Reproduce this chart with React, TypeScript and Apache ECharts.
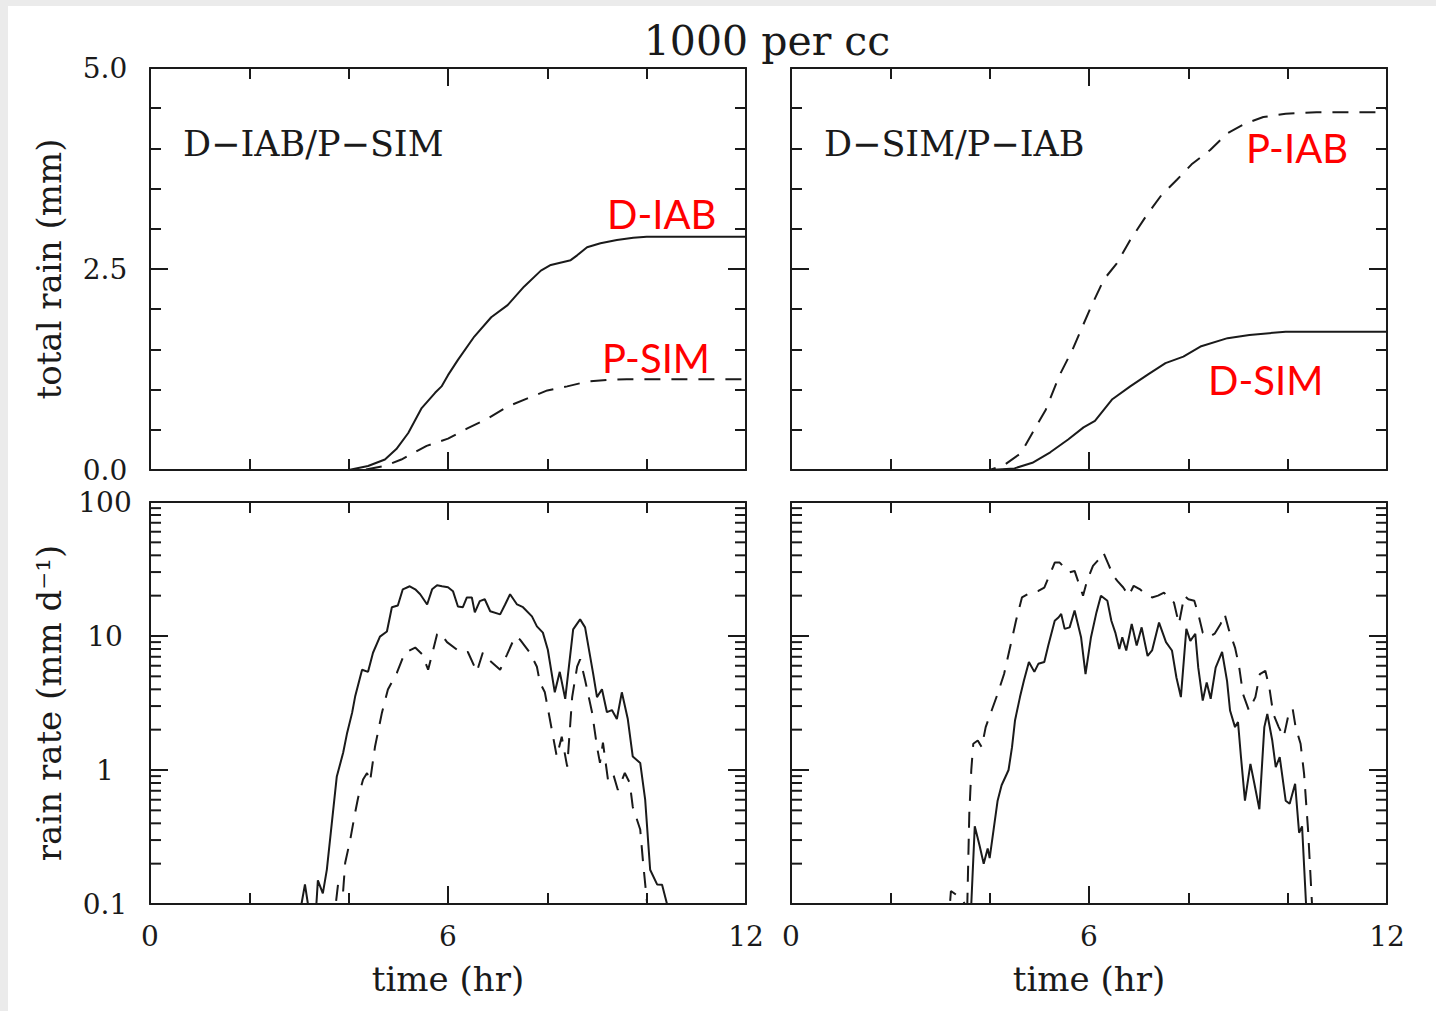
import React, { useEffect, useRef } from "react";
import * as echarts from "echarts";

// ---------- texts ----------
const TITLE = "1000 per cc";
const PANEL_LEFT = "D\u2212IAB/P\u2212SIM";
const PANEL_RIGHT = "D\u2212SIM/P\u2212IAB";
const X_NAME = "time (hr)";
const Y_TOP_NAME = "total rain (mm)";
const Y_BOTTOM_NAME = "rain rate (mm d\u207B\u00B9)";

// ---------- data: [time (hr), value] ----------
// top-left: total rain (mm)
const totalDIAB: [number, number][] = [
  [0, 0], [4.0, 0], [4.39, 0.05], [4.73, 0.13], [4.96, 0.26], [5.2, 0.46], [5.47, 0.77],
  [5.74, 0.96], [5.87, 1.04], [6.0, 1.18], [6.2, 1.37], [6.53, 1.66], [6.87, 1.9], [7.2, 2.05],
  [7.53, 2.28], [7.87, 2.48], [8.07, 2.55], [8.47, 2.61], [8.6, 2.67], [8.8, 2.77], [9.07, 2.82],
  [9.4, 2.86], [9.73, 2.89], [10.0, 2.9], [12, 2.9],
];
const totalPSIM: [number, number][] = [
  [0, 0], [4.3, 0], [4.73, 0.05], [5.06, 0.13], [5.57, 0.3], [6.0, 0.39], [6.4, 0.52], [6.8, 0.64],
  [7.2, 0.79], [7.6, 0.89], [8.0, 0.99], [8.4, 1.04], [8.8, 1.1], [9.2, 1.12], [9.6, 1.13], [12, 1.13],
];
// top-right: total rain (mm)
const totalPIAB: [number, number][] = [
  [0, 0], [4.0, 0], [4.31, 0.07], [4.63, 0.21], [4.86, 0.46], [5.13, 0.75], [5.4, 1.17], [5.67, 1.5],
  [6.04, 2.03], [6.3, 2.37], [6.56, 2.57], [6.83, 2.86], [7.14, 3.15], [7.46, 3.42], [7.77, 3.61],
  [8.08, 3.81], [8.44, 3.98], [8.79, 4.19], [9.15, 4.31], [9.51, 4.39], [9.96, 4.43], [10.58, 4.45],
  [11.9, 4.45], [12, 4.49],
];
const totalDSIM: [number, number][] = [
  [0, 0], [4.0, 0], [4.5, 0.02], [4.86, 0.09], [5.22, 0.22], [5.58, 0.38], [5.89, 0.53], [6.12, 0.61],
  [6.47, 0.88], [6.83, 1.04], [7.19, 1.19], [7.54, 1.33], [7.9, 1.41], [8.26, 1.54], [8.79, 1.64],
  [9.23, 1.68], [9.96, 1.72], [12, 1.72],
];
// bottom-left: rain rate (mm/d), clipped at 0.1
const rateDIAB: [number, number][] = [
  [0, 0.1], [3.05, 0.1], [3.12, 0.14], [3.18, 0.1], [3.35, 0.1], [3.38, 0.15], [3.48, 0.12], [3.56, 0.18],
  [3.66, 0.4], [3.76, 0.89], [3.89, 1.35], [3.97, 1.9], [4.07, 2.68], [4.13, 3.53], [4.27, 5.6], [4.39, 5.4],
  [4.49, 7.5], [4.63, 9.9], [4.77, 10.8], [4.87, 16.4], [4.99, 16.9], [5.09, 22.3], [5.23, 23.5], [5.34, 22.3],
  [5.44, 20.5], [5.58, 17.2], [5.68, 22.3], [5.78, 23.9], [5.88, 23.5], [6.0, 23.1], [6.1, 21.6], [6.2, 16.6],
  [6.3, 16.4], [6.38, 19.4], [6.48, 19.4], [6.54, 15.0], [6.64, 18.2], [6.74, 18.8], [6.85, 15.3], [7.05, 14.5],
  [7.15, 17.2], [7.25, 20.5], [7.39, 17.2], [7.51, 16.4], [7.69, 14.0], [7.79, 11.8], [7.91, 10.6], [8.01, 7.9],
  [8.15, 3.8], [8.25, 5.4], [8.36, 3.4], [8.52, 11.2], [8.66, 13.3], [8.76, 11.6], [8.92, 5.3], [9.0, 3.5],
  [9.1, 4.0], [9.2, 2.7], [9.3, 2.8], [9.4, 2.4], [9.5, 3.8], [9.62, 2.4], [9.72, 1.26], [9.87, 1.13],
  [9.97, 0.6], [10.07, 0.18], [10.21, 0.14], [10.31, 0.139], [10.41, 0.1], [12, 0.1],
];
const ratePSIM: [number, number][] = [
  [0, 0.1], [3.74, 0.1], [3.785, 0.139], [3.886, 0.121], [3.93, 0.203], [4.03, 0.3], [4.13, 0.48], [4.19, 0.62],
  [4.29, 0.85], [4.37, 0.95], [4.43, 0.82], [4.53, 1.49], [4.67, 2.68], [4.79, 3.99], [4.97, 5.3], [5.13, 7.5],
  [5.34, 8.2], [5.48, 7.3], [5.6, 5.6], [5.68, 7.3], [5.78, 10.3], [5.84, 10.6], [5.98, 9.0], [6.18, 7.9],
  [6.3, 7.5], [6.4, 7.6], [6.58, 5.4], [6.7, 7.5], [6.85, 6.5], [7.05, 5.6], [7.19, 7.3], [7.35, 9.9],
  [7.45, 9.4], [7.65, 7.5], [7.79, 5.9], [7.85, 4.5], [7.95, 3.8], [8.09, 2.0], [8.19, 1.26], [8.29, 1.77],
  [8.4, 1.06], [8.5, 3.5], [8.6, 5.9], [8.66, 6.7], [8.76, 4.7], [8.9, 2.7], [9.0, 1.49], [9.06, 1.13],
  [9.12, 1.6], [9.22, 0.85], [9.32, 0.95], [9.42, 0.71], [9.56, 0.95], [9.66, 0.8], [9.72, 0.53], [9.87, 0.36],
  [9.93, 0.2], [10.01, 0.1], [12, 0.1],
];
// bottom-right: rain rate (mm/d)
const rateDSIM: [number, number][] = [
  [0, 0.1], [3.63, 0.1], [3.7, 0.38], [3.8, 0.27], [3.88, 0.2], [3.96, 0.26], [4.0, 0.22], [4.08, 0.36],
  [4.16, 0.59], [4.24, 0.77], [4.33, 0.91], [4.38, 1.0], [4.45, 1.48], [4.51, 2.34], [4.61, 3.5], [4.69, 4.65],
  [4.79, 6.4], [4.9, 5.4], [4.98, 6.2], [5.1, 6.4], [5.18, 8.5], [5.31, 13.0], [5.39, 13.8], [5.44, 14.6],
  [5.51, 11.3], [5.61, 11.6], [5.71, 15.5], [5.84, 9.8], [5.93, 5.2], [6.04, 9.8], [6.15, 15.0], [6.24, 20.0],
  [6.37, 18.3], [6.45, 13.0], [6.53, 10.6], [6.61, 8.0], [6.67, 9.8], [6.75, 7.8], [6.86, 12.3], [6.96, 8.5],
  [7.06, 11.6], [7.18, 7.1], [7.27, 7.8], [7.41, 12.6], [7.55, 9.0], [7.67, 7.8], [7.76, 4.9], [7.85, 3.5],
  [7.96, 11.3], [8.04, 9.2], [8.14, 10.4], [8.2, 5.8], [8.29, 3.3], [8.37, 4.5], [8.45, 3.4], [8.55, 5.8],
  [8.68, 7.6], [8.78, 4.6], [8.84, 2.78], [8.94, 2.09], [9.0, 2.28], [9.06, 1.25], [9.14, 0.59], [9.25, 1.11],
  [9.33, 0.79], [9.43, 0.51], [9.53, 2.09], [9.59, 2.62], [9.69, 1.66], [9.76, 1.05], [9.84, 1.25], [9.96, 0.59],
  [10.04, 0.56], [10.15, 0.79], [10.23, 0.34], [10.29, 0.38], [10.37, 0.1], [12, 0.1],
];
const ratePIAB: [number, number][] = [
  [0, 0.1], [3.2, 0.1], [3.22, 0.125], [3.43, 0.11], [3.5, 0.1], [3.55, 0.1], [3.57, 0.22], [3.59, 0.47],
  [3.63, 1.0], [3.67, 1.57], [3.76, 1.66], [3.84, 1.48], [3.92, 2.09], [4.04, 2.78], [4.16, 3.7], [4.29, 5.2],
  [4.41, 8.2], [4.53, 13.0], [4.65, 19.4], [4.82, 21.1], [4.98, 21.7], [5.1, 23.0], [5.2, 28.1], [5.31, 35.3],
  [5.41, 35.3], [5.47, 33.4], [5.59, 29.8], [5.71, 30.6], [5.8, 24.4], [5.88, 20.0], [5.96, 25.8], [6.08, 33.4],
  [6.2, 37.4], [6.29, 42.0], [6.39, 34.4], [6.49, 28.1], [6.57, 25.8], [6.69, 23.0], [6.8, 20.0], [6.9, 23.7],
  [7.02, 22.4], [7.14, 20.5], [7.27, 19.4], [7.39, 20.0], [7.51, 21.1], [7.62, 18.8], [7.71, 17.8], [7.81, 12.3],
  [7.92, 20.0], [8.0, 18.8], [8.12, 18.3], [8.2, 14.6], [8.29, 10.6], [8.41, 9.8], [8.53, 10.4], [8.65, 12.3],
  [8.73, 14.6], [8.82, 11.0], [8.94, 8.2], [9.02, 6.0], [9.1, 3.7], [9.22, 2.78], [9.35, 3.5], [9.44, 5.2],
  [9.55, 5.5], [9.63, 4.15], [9.71, 2.62], [9.82, 2.09], [9.92, 1.76], [10.02, 2.62], [10.1, 2.87], [10.16, 2.09],
  [10.26, 1.57], [10.33, 0.94], [10.41, 0.36], [10.49, 0.1], [12, 0.1],
];

// log-axis minor tick values (2..9 per decade)
const LOG_MULTIPLIERS = [2, 3, 4, 5, 6, 7, 8, 9];
const LOG_DECADES = [0.1, 1, 10];

// ---------- styling ----------
const SERIF = '"DejaVu Serif", serif';
const SANS = 'Lato, "Open Sans", sans-serif';
const INK = "#1a1a1a";
const RED = "#ff0000";
const LW = 2;
const DASH = [16, 11];

const GRIDS = [
  { left: 150, top: 68, width: 596, height: 402 },
  { left: 791, top: 68, width: 596, height: 402 },
  { left: 150, top: 502, width: 596, height: 402 },
  { left: 791, top: 502, width: 596, height: 402 },
];

const lineStyle = { color: INK, width: LW };

function makeX(gridIndex: number, bottom: boolean, labels: boolean) {
  return {
    type: "value",
    gridIndex,
    min: 0,
    max: 12,
    interval: 6,
    position: bottom ? "bottom" : "top",
    axisLine: { show: true, onZero: false, lineStyle },
    axisTick: { show: true, inside: true, length: 18, lineStyle },
    minorTick: { show: true, splitNumber: 3, length: 11, lineStyle },
    splitLine: { show: false },
    minorSplitLine: { show: false },
    axisLabel: {
      show: labels,
      margin: 18,
      fontFamily: SERIF,
      fontSize: 28,
      color: INK,
      formatter: (v: number) => String(v),
    },
    name: labels ? X_NAME : "",
    nameLocation: "middle",
    nameGap: 58,
    nameMoveOverlap: false,
    nameTextStyle: { fontFamily: SERIF, fontSize: 34, color: INK },
  };
}

function makeYTotal(gridIndex: number, left: boolean, labels: boolean) {
  return {
    type: "value",
    gridIndex,
    min: 0,
    max: 5,
    interval: 2.5,
    position: left ? "left" : "right",
    axisLine: { show: true, onZero: false, lineStyle },
    axisTick: { show: true, inside: true, length: 18, lineStyle },
    minorTick: { show: true, splitNumber: 5, length: 11, lineStyle },
    splitLine: { show: false },
    minorSplitLine: { show: false },
    axisLabel: {
      show: labels,
      margin: 45,
      align: "center",
      fontFamily: SERIF,
      fontSize: 28,
      color: INK,
      formatter: (v: number) => v.toFixed(1),
    },
    name: labels ? Y_TOP_NAME : "",
    nameLocation: "middle",
    nameRotate: 90,
    nameGap: 84,
    nameMoveOverlap: false,
    nameTextStyle: { fontFamily: SERIF, fontSize: 34, color: INK },
  };
}

function makeYRate(gridIndex: number, left: boolean, labels: boolean) {
  return {
    type: "log",
    logBase: 10,
    gridIndex,
    min: 0.1,
    max: 100,
    position: left ? "left" : "right",
    axisLine: { show: true, onZero: false, lineStyle },
    axisTick: { show: true, inside: true, length: 18, lineStyle },
    minorTick: { show: false },
    splitLine: { show: false },
    axisLabel: {
      show: labels,
      margin: 45,
      align: "center",
      fontFamily: SERIF,
      fontSize: 28,
      color: INK,
      formatter: (v: number) => (v < 1 ? v.toFixed(1) : String(Math.round(v))),
    },
    name: labels ? Y_BOTTOM_NAME : "",
    nameLocation: "middle",
    nameRotate: 90,
    nameGap: 84,
    nameMoveOverlap: false,
    nameTextStyle: { fontFamily: SERIF, fontSize: 34, color: INK },
  };
}

function line(name: string, data: [number, number][], g: number, dashed: boolean) {
  return {
    name,
    type: "line",
    xAxisIndex: 2 * g,
    yAxisIndex: 2 * g,
    data,
    showSymbol: false,
    symbol: "none",
    silent: true,
    clip: true,
    lineStyle: { color: INK, width: 2, type: dashed ? DASH : "solid" },
    z: 2,
  };
}

function logMinorTicks(g: number) {
  const values: number[][] = [];
  LOG_DECADES.forEach((d) => LOG_MULTIPLIERS.forEach((m) => values.push([0, d * m])));
  return {
    name: "log minor ticks " + g,
    type: "custom",
    xAxisIndex: 2 * g,
    yAxisIndex: 2 * g,
    silent: true,
    clip: false,
    z: 3,
    encode: { x: 0, y: 1 },
    data: values,
    renderItem: (_params: any, api: any) => {
      const v = api.value(1);
      const l = api.coord([0, v]);
      const r = api.coord([12, v]);
      const st = { stroke: INK, lineWidth: LW };
      return {
        type: "group",
        children: [
          { type: "line", shape: { x1: l[0], y1: l[1], x2: l[0] + 11, y2: l[1] }, style: st },
          { type: "line", shape: { x1: r[0] - 11, y1: r[1], x2: r[0], y2: r[1] }, style: st },
        ],
      };
    },
  };
}

function serifText(text: string, x: number, y: number, size: number) {
  return {
    type: "text",
    x,
    y,
    silent: true,
    style: { text, fill: INK, fontFamily: SERIF, fontSize: size, align: "left", verticalAlign: "middle" },
  };
}
function redText(text: string, x: number, y: number) {
  return {
    type: "text",
    x,
    y,
    silent: true,
    style: { text, fill: RED, fontFamily: SANS, fontSize: 40, align: "left", verticalAlign: "middle" },
  };
}

export default function App() {
  const ref = useRef<HTMLDivElement>(null);
  useEffect(() => {
    if (!ref.current) return;
    const chart = echarts.init(ref.current, undefined, { renderer: "svg" });
    const option: any = {
      animation: false,
      backgroundColor: "#ffffff",
      title: {
        text: TITLE,
        left: 762,
        top: 15,
        textAlign: "center",
        textStyle: { fontFamily: SERIF, fontSize: 41, fontWeight: "normal", color: INK },
      },
      grid: GRIDS.map((g) => ({ ...g, containLabel: false, outerBoundsMode: "none", show: false })),
      xAxis: [
        makeX(0, true, false), makeX(0, false, false),
        makeX(1, true, false), makeX(1, false, false),
        makeX(2, true, true), makeX(2, false, false),
        makeX(3, true, true), makeX(3, false, false),
      ],
      yAxis: [
        makeYTotal(0, true, true), makeYTotal(0, false, false),
        makeYTotal(1, true, false), makeYTotal(1, false, false),
        makeYRate(2, true, true), makeYRate(2, false, false),
        makeYRate(3, true, false), makeYRate(3, false, false),
      ],
      series: [
        line("D-IAB total", totalDIAB, 0, false),
        line("P-SIM total", totalPSIM, 0, true),
        line("D-SIM total", totalDSIM, 1, false),
        line("P-IAB total", totalPIAB, 1, true),
        line("D-IAB rate", rateDIAB, 2, false),
        line("P-SIM rate", ratePSIM, 2, true),
        line("D-SIM rate", rateDSIM, 3, false),
        line("P-IAB rate", ratePIAB, 3, true),
        logMinorTicks(2),
        logMinorTicks(3),
      ],
      graphic: [
        { type: "rect", silent: true, shape: { x: 0, y: 0, width: 1436, height: 6 }, style: { fill: "#ebebeb" } },
        { type: "rect", silent: true, shape: { x: 0, y: 0, width: 8, height: 1011 }, style: { fill: "#ebebeb" } },
        serifText(PANEL_LEFT, 183, 144, 35),
        serifText(PANEL_RIGHT, 824, 144, 35),
        redText("D-IAB", 607, 214),
        redText("P-SIM", 602, 358),
        redText("P-IAB", 1246, 148),
        redText("D-SIM", 1208, 380),
      ],
    };
    chart.setOption(option);
    return () => chart.dispose();
  }, []);
  return (
    <div
      ref={ref}
      style={{ position: "fixed", left: 0, top: 0, width: 1436, height: 1011 }}
    />
  );
}
